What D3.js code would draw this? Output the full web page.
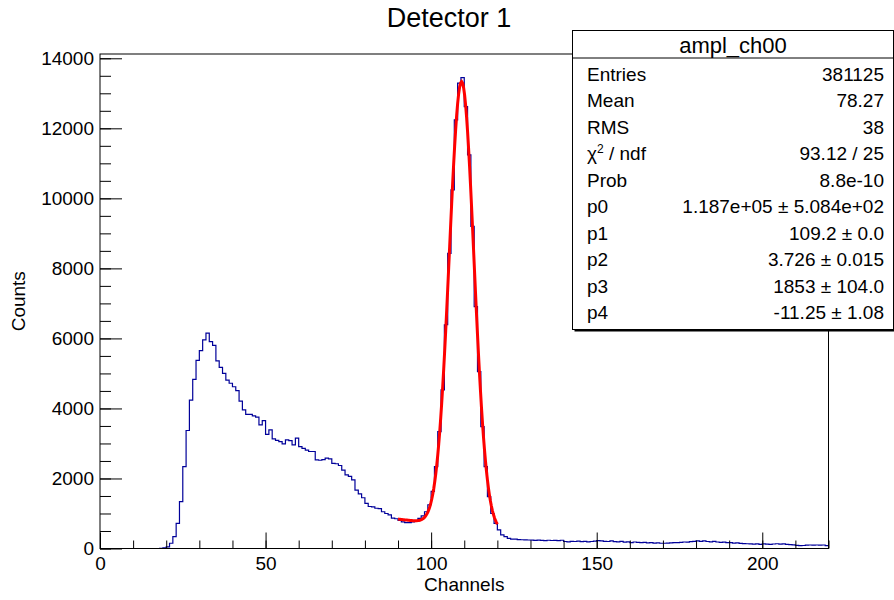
<html>
<meta charset="utf-8">
<script src="https://cdn.jsdelivr.net/npm/d3@7"></script>
<style>
body{ margin:0; background:white; }
text{ font-family:"Liberation Sans", Arial, sans-serif; fill:black; }
.frame{ fill:none; stroke:black; stroke-width:1; }
.axis line{ stroke:black; stroke-width:1; }
.axis path{ display:none; }
.hist{ fill:none; stroke:#000099; stroke-width:1.2; }
.fit{ fill:none; stroke:#ff0000; stroke-width:3; }
.statsBox{ fill:white; stroke:black; stroke-width:1; }
</style>
<body>
<div id="graphDiv"></div>

<script>
// histogram ampl_ch00, 220 bins of width 1 starting at 0
var binWidth = 1;
var counts = [
  0,0,0,0,0,0,0,0,0,0, 0,0,0,0,0,0,0,0,5,20,
  45,150,340,720,1340,2340,3370,4240,4830,5370,
  5650,5960,6150,5910,5800,5360,5170,5000,4810,4720,
  4620,4510,4210,3960,3830,3830,3790,3750,3530,3650,
  3260,3390,3130,3090,3050,2990,3100,3080,2960,3150,
  2910,2860,2810,2770,2770,2530,2520,2540,2580,2560,
  2430,2420,2370,2240,2100,2060,1960,1670,1560,1450,
  1290,1200,1190,1150,1140,1050,1000,960,870,850,
  800,760,740,740,760,800,860,930,1050,1250,
  1630,2340,3340,4530,6390,8430,10240,12240,13290,13450,
  12620,11240,9200,6910,5050,3480,2340,1480,1000,720,
  530,390,340,290,265,265,255,250,245,243,
  240,232,238,230,226,235,228,232,225,236,
  200,190,205,200,210,195,205,190,200,210,
  225,215,205,200,215,195,190,205,180,190,
  170,185,175,165,175,160,168,155,162,150,
  150,155,160,170,165,175,185,180,195,205,
  215,205,220,200,190,205,185,175,180,165,
  165,155,160,145,140,135,130,125,130,120,
  130,125,120,128,135,125,130,115,110,105,
  90,80,85,95,100,98,100,95,100,80
];

// gaussian (normalised) + linear background fit
var fitParams = [1.187e5, 109.2, 3.726, 1853, -11.25];
var fitRange = [90, 120];
var fitNpx = 100;

var statNames = ["Entries", "Mean", "RMS", "chi", "Prob", "p0", "p1", "p2", "p3", "p4"];
var statValues = ["381125", "78.27", "38", "93.12 / 25", "8.8e-10",
                  "1.187e+05 \u00b1 5.084e+02", "109.2 \u00b1 0.0", "3.726 \u00b1 0.015",
                  "1853 \u00b1 104.0", "-11.25 \u00b1 1.08"];

var xMajor = [0, 50, 100, 150, 200];
var xMinor = d3.range(0, 221, 10);
var yMajor = [0, 2000, 4000, 6000, 8000, 10000, 12000, 14000];
var yMinor = d3.range(0, 14001, 500);

var width = 894, height = 600;
var frame = {left:100, right:828.5, top:54, bottom:548.5};

var svg = d3.select("#graphDiv").append("svg")
  .attr("width", width).attr("height", height);

svg.append("rect").attr("width", width).attr("height", height).attr("fill", "white");

var x = d3.scaleLinear().domain([0, counts.length * binWidth]).range([frame.left, frame.right]);
var y = d3.scaleLinear().domain([0, 1.05 * d3.max(counts)]).range([frame.bottom, frame.top]);

// histogram outline as steps
var pts = [];
counts.forEach(function(c, i){
  pts.push([i * binWidth, c]);
  pts.push([(i + 1) * binWidth, c]);
});
var line = d3.line().x(function(d){ return x(d[0]); }).y(function(d){ return y(d[1]); });

svg.append("path").attr("class", "hist").attr("d", line(pts));

// fit function
function fitFunc(v){
  var p = fitParams;
  var z = (v - p[1]) / p[2];
  return p[0] / (Math.sqrt(2 * Math.PI) * p[2]) * Math.exp(-0.5 * z * z) + p[3] + p[4] * v;
}
var fitPts = d3.range(fitNpx + 1).map(function(k){
  var v = fitRange[0] + (fitRange[1] - fitRange[0]) * k / fitNpx;
  return [v, fitFunc(v)];
});
svg.append("path").attr("class", "fit").attr("d", line(fitPts));

// frame
svg.append("rect").attr("class", "frame")
  .attr("x", frame.left).attr("y", frame.top)
  .attr("width", frame.right - frame.left).attr("height", frame.bottom - frame.top);

// x axis
svg.append("g").attr("class", "axis")
  .attr("transform", "translate(0," + frame.bottom + ")")
  .call(d3.axisBottom(x).tickValues(xMinor).tickSize(-8).tickFormat(""));
var xAx = svg.append("g").attr("class", "axis")
  .attr("transform", "translate(0," + frame.bottom + ")")
  .call(d3.axisBottom(x).tickValues(xMajor).tickSize(-16).tickPadding(8).tickFormat(d3.format("d")));
xAx.selectAll("text").attr("font-size", 19).attr("font-family", null);

// y axis
svg.append("g").attr("class", "axis")
  .attr("transform", "translate(" + frame.left + ",0)")
  .call(d3.axisLeft(y).tickValues(yMinor).tickSize(-11).tickFormat(""));
var yAx = svg.append("g").attr("class", "axis")
  .attr("transform", "translate(" + frame.left + ",0)")
  .call(d3.axisLeft(y).tickValues(yMajor).tickSize(-22).tickPadding(6).tickFormat(d3.format("d")));
yAx.selectAll("text").attr("font-size", 19).attr("font-family", null);

// axis titles
svg.append("text").attr("x", (frame.left + frame.right) / 2).attr("y", 591)
  .attr("text-anchor", "middle").attr("font-size", 19).text("Channels");
svg.append("text").attr("transform", "translate(25," + (frame.top + frame.bottom) / 2 + ") rotate(-90)")
  .attr("text-anchor", "middle").attr("font-size", 19).text("Counts");

// title
svg.append("text").attr("x", 449).attr("y", 27)
  .attr("text-anchor", "middle").attr("font-size", 27).text("Detector 1");

// stats box
var sb = {x:572.5, y:30.5, w:321, h:299};
svg.append("rect").attr("x", sb.x + 2).attr("y", sb.y + 2).attr("width", sb.w).attr("height", sb.h).attr("fill", "black");
svg.append("rect").attr("class", "statsBox").attr("x", sb.x).attr("y", sb.y).attr("width", sb.w).attr("height", sb.h);
svg.append("line").attr("x1", sb.x).attr("x2", sb.x + sb.w).attr("y1", 58).attr("y2", 58)
  .attr("stroke", "black");
svg.append("text").attr("x", 733).attr("y", 53).attr("text-anchor", "middle")
  .attr("font-size", 22).text("ampl_ch00");

var rowY = d3.scaleLinear().domain([0, 1]).range([80.5, 107]);
statNames.forEach(function(n, i){
  var t = svg.append("text").attr("x", 587).attr("y", rowY(i)).attr("font-size", 19);
  if (n === "chi"){
    t.append("tspan").text("\u03c7");
    t.append("tspan").attr("dy", -7).attr("font-size", 12).text("2");
    t.append("tspan").attr("dy", 7).text(" / ndf");
  } else {
    t.text(n);
  }
  svg.append("text").attr("x", 884).attr("y", rowY(i)).attr("text-anchor", "end")
    .attr("font-size", 19).text(statValues[i]);
});
</script>
</body>
</html>
